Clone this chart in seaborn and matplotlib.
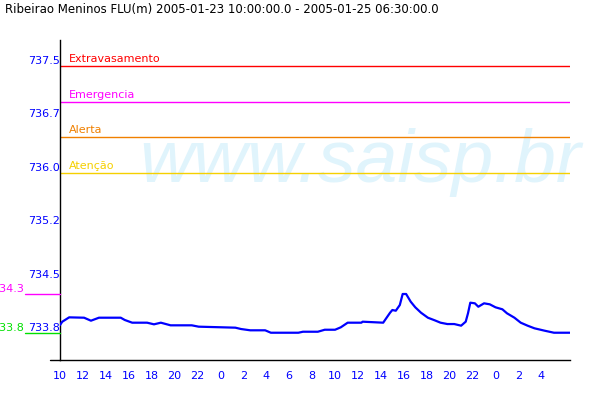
import matplotlib
matplotlib.use("Agg")
import matplotlib.pyplot as plt
import matplotlib.transforms as mtransforms
import seaborn as sns
import pandas as pd

# ---- data (hours since 2005-01-23 10:00, level in m) ----
hours = [0.0, 0.2, 0.8, 2.1, 2.7, 3.4, 5.3, 5.65, 6.3, 7.6, 8.2, 8.8, 9.65, 11.5,
         12.1, 15.3, 15.8, 16.6, 17.9, 18.4, 20.8, 21.2, 22.5, 23.1, 24.0, 24.5,
         25.1, 26.3, 26.4, 28.2, 28.4, 28.8, 29.0, 29.3, 29.65, 29.9, 30.2, 30.6,
         31.0, 31.5, 32.1, 32.7, 33.2, 33.8, 34.4, 35.0, 35.4, 35.6, 35.8, 36.2,
         36.5, 37.0, 37.5, 38.0, 38.6, 39.0, 39.65, 40.2, 40.8, 41.4, 42.3, 43.1, 44.5]
levels = [733.862, 733.909, 733.970, 733.965, 733.923, 733.965, 733.965, 733.933,
          733.895, 733.895, 733.872, 733.895, 733.858, 733.858, 733.839, 733.825,
          733.806, 733.788, 733.788, 733.754, 733.754, 733.768, 733.768, 733.796,
          733.796, 733.830, 733.895, 733.895, 733.909, 733.895, 733.942, 734.035,
          734.073, 734.063, 734.143, 734.298, 734.298, 734.190, 734.111, 734.035,
          733.965, 733.928, 733.895, 733.876, 733.876, 733.853, 733.909, 734.027,
          734.176, 734.167, 734.119, 734.167, 734.153, 734.111, 734.083, 734.027,
          733.965, 733.895, 733.853, 733.816, 733.782, 733.754, 733.754]

threshold_names = ["Extravasamento", "Emergencia", "Alerta", "Atenção"]
threshold_values = [737.5, 737.0, 736.5, 736.0]
threshold_colors = ["#FF0000", "#FF00FF", "#F08000", "#F5D000"]

ytick_values = [733.75, 734.5, 735.25, 736.0, 736.75, 737.5]
ytick_labels = ["733.8", "734.5", "735.2", "736.0", "736.7", "737.5"]
xtick_hours = list(range(0, 43, 2))
xtick_labels = ["10", "12", "14", "16", "18", "20", "22", "0", "2", "4", "6", "8",
                "10", "12", "14", "16", "18", "20", "22", "0", "2", "4"]

title = "Ribeirao Meninos FLU(m) 2005-01-23 10:00:00.0 - 2005-01-25 06:30:00.0"
watermark = "www.saisp.br"

df = pd.DataFrame({"hour": hours, "level": levels})

sns.set_style("white")
plt.rcParams["font.family"] = ["DejaVu Sans"]

fig = plt.figure(figsize=(6, 4), dpi=100)
ax = fig.add_axes([0.1, 0.1, 0.85, 0.8])

# watermark
ax.text(0.155, 0.555, watermark, transform=ax.transAxes, fontsize=54,
        family="Liberation Sans", style="italic", color="#E0F4FC",
        ha="left", va="baseline", zorder=0)

# thresholds
for name, val, col in zip(threshold_names, threshold_values, threshold_colors):
    ax.axhline(val, color=col, lw=1.0, zorder=1)
    ax.text(0.8, val + 0.055, name, color=col, fontsize=8, ha="left",
            va="baseline", zorder=2)

sns.lineplot(data=df, x="hour", y="level", ax=ax, color="#0000FF", lw=1.6,
             zorder=3)

ax.set_xlim(0, 44.5)
ax.set_ylim(733.371, 737.865)

ax.set_xticks(xtick_hours)
ax.set_xticklabels(xtick_labels)
ax.set_yticks(ytick_values)
ax.set_yticklabels(ytick_labels, va="bottom")
ax.tick_params(axis="x", direction="out", length=7.2, width=1, color="#0000FF",
               labelcolor="#0000FF", labelsize=8, pad=0.5)
ax.tick_params(axis="y", direction="out", length=7.2, width=1, color="#0000FF",
               labelcolor="#0000FF", labelsize=8, pad=-7.0)
ax.set_xlabel("")
ax.set_ylabel("")

for s in ["top", "right"]:
    ax.spines[s].set_visible(False)
for s in ["left", "bottom"]:
    ax.spines[s].set_color("black")
    ax.spines[s].set_linewidth(1.0)

# bottom axis line extends a bit to the left
ax.plot([-10 / 510, 0], [0, 0], transform=ax.transAxes, color="black", lw=1.0,
        clip_on=False)

# max / min markers in left margin
vmax = max(levels)
vmin = min(levels)
blend = mtransforms.blended_transform_factory(ax.transAxes, ax.transData)
for val, col in [(vmax, "#FF00FF"), (vmin, "#00E000")]:
    ax.plot([-35 / 510, 0], [val, val], transform=blend, color=col, lw=1.0,
            clip_on=False, zorder=4)
    ax.text(-36 / 510, val, f"{val:.1f}", transform=blend, color=col,
            fontsize=8, ha="right", va="bottom", clip_on=False)

fig.text(5 / 600, 1 - 10 / 400, title, fontsize=8.5, color="black",
         ha="left", va="center")

fig.savefig("out.png", dpi=100, facecolor="white")
